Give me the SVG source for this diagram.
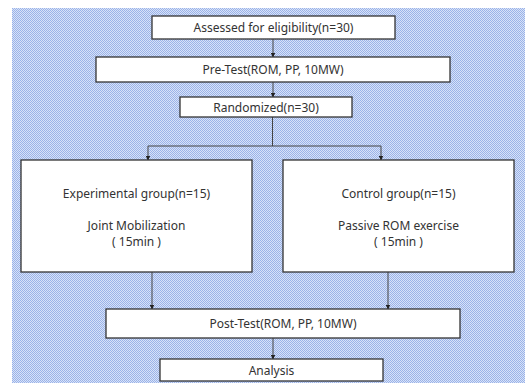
<svg xmlns="http://www.w3.org/2000/svg" width="525" height="383" viewBox="0 0 525 383">
<defs>
<pattern id="dots" x="0" y="0" width="2" height="2" patternUnits="userSpaceOnUse">
<rect width="2" height="2" fill="#d8e2f8"/>
<rect width="1" height="1" fill="#9ab3e8"/>
<rect x="1" y="1" width="1" height="1" fill="#9ab3e8"/>
</pattern>
<marker id="arr" markerWidth="5" markerHeight="5" refX="4.5" refY="2.5" orient="auto" markerUnits="userSpaceOnUse">
<path d="M0,0 L5,2.5 L0,5 Z" fill="#222"/>
</marker>
<style>
.box{fill:#fff;stroke:#333;stroke-width:1.3}
.t{font-family:"Noto Sans","Liberation Sans",sans-serif;font-size:12px;fill:#333;text-anchor:middle}
.c{fill:none;stroke:#444;stroke-width:1}
</style>
</defs>
<rect width="525" height="383" fill="#fff"/>
<rect x="12" y="8" width="513" height="375" fill="url(#dots)"/>
<g id="connectors">
<line class="c" x1="273" y1="39" x2="273" y2="57" marker-end="url(#arr)"/>
<line class="c" x1="273" y1="82" x2="273" y2="97" marker-end="url(#arr)"/>
<polyline class="c" points="272.5,117 272.5,146"/>
<polyline class="c" points="148,146 381,146"/>
<line class="c" x1="148" y1="146" x2="148" y2="160" marker-end="url(#arr)"/>
<line class="c" x1="381" y1="146" x2="381" y2="160" marker-end="url(#arr)"/>
<line class="c" x1="152" y1="272" x2="152" y2="309" marker-end="url(#arr)"/>
<line class="c" x1="388" y1="272" x2="388" y2="309" marker-end="url(#arr)"/>
<line class="c" x1="273" y1="338" x2="273" y2="359" marker-end="url(#arr)"/>
</g>
<g id="assessed">
<rect class="box" x="152" y="16" width="243" height="23"/>
<text class="t" x="273.5" y="32">Assessed for eligibility(n=30)</text>
</g>
<g id="pretest">
<rect class="box" x="96" y="57" width="354" height="25"/>
<text class="t" x="273" y="74">Pre-Test(ROM, PP, 10MW)</text>
</g>
<g id="randomized">
<rect class="box" x="180" y="97" width="172" height="20"/>
<text class="t" x="266" y="111.5">Randomized(n=30)</text>
</g>
<g id="experimental">
<rect class="box" x="21" y="160" width="231" height="112"/>
<text class="t" x="136.5" y="197.5">Experimental group(n=15)</text>
<text class="t" x="136.5" y="229.5">Joint Mobilization</text>
<text class="t" x="136.5" y="245.5">( 15min )</text>
</g>
<g id="control">
<rect class="box" x="283" y="160" width="231" height="112"/>
<text class="t" x="398.5" y="197.5">Control group(n=15)</text>
<text class="t" x="398.5" y="229.5">Passive ROM exercise</text>
<text class="t" x="398.5" y="245.5">( 15min )</text>
</g>
<g id="posttest">
<rect class="box" x="106" y="309" width="354" height="29"/>
<text class="t" x="283" y="328">Post-Test(ROM, PP, 10MW)</text>
</g>
<g id="analysis">
<rect class="box" x="160" y="359" width="223" height="22"/>
<text class="t" x="271.5" y="374.5">Analysis</text>
</g>
</svg>
